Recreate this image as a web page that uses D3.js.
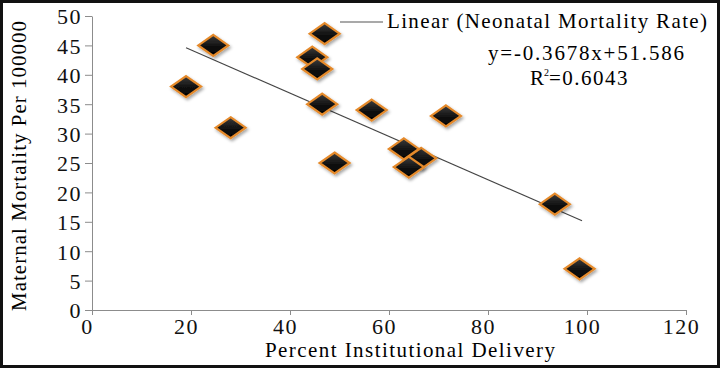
<!DOCTYPE html>
<html>
<head>
<meta charset="utf-8">
<script src="https://cdn.jsdelivr.net/npm/d3@7"></script>
<style>
  html, body { margin: 0; padding: 0; background: #fff; }
  svg { display: block; font-family: "Liberation Serif", "Times New Roman", "DejaVu Serif", serif; }
  .axis path, .axis line { stroke: #8c8c8c; }
</style>
</head>
<body>
<svg id="chart" width="720" height="368"></svg>
<script>
// Data
const delivery = [19, 24.5, 28, 44.5, 45.5, 47, 46.5, 49, 56.5, 66.5, 63, 64, 71.5, 93.5, 98.5];
const mortality = [38, 45, 31, 43, 41, 47, 35, 25, 34, 25.8, 27.4, 24.3, 33, 18, 7];
const xTicks = [0, 20, 40, 60, 80, 100, 120];
const yTicks = [0, 5, 10, 15, 20, 25, 30, 35, 40, 45, 50];
const slope = -0.3678;
const intercept = 51.586;
const trendRange = [19, 99];

const serif = '"Liberation Serif", "Times New Roman", "DejaVu Serif", serif';

const svg = d3.select('#chart');
const width = 720, height = 368;
const margin = { top: 16, right: 34, bottom: 58, left: 92 };

// Scales
const xScale = d3.scaleLinear()
  .domain([0, 120])
  .range([margin.left, width - margin.right]);

const yScale = d3.scaleLinear()
  .domain([0, 50])
  .range([height - margin.bottom, margin.top]);

// Outer frame
svg.append('rect')
  .attr('x', 1.5).attr('y', 1.5)
  .attr('width', width - 3).attr('height', height - 3)
  .attr('fill', '#fff')
  .attr('stroke', '#111')
  .attr('stroke-width', 3);

// Marker fill + shadow
const defs = svg.append('defs');
const grad = defs.append('linearGradient')
  .attr('id', 'dia').attr('x1', 0).attr('y1', 0).attr('x2', 0).attr('y2', 1);
grad.append('stop').attr('offset', '0%').attr('stop-color', '#3c3c3c');
grad.append('stop').attr('offset', '55%').attr('stop-color', '#111');
grad.append('stop').attr('offset', '100%').attr('stop-color', '#000');
const shadow = defs.append('filter').attr('id', 'shadow')
  .attr('x', '-30%').attr('y', '-30%').attr('width', '160%').attr('height', '160%');
shadow.append('feDropShadow')
  .attr('dx', 1.5).attr('dy', 2).attr('stdDeviation', 1.5)
  .attr('flood-color', '#000').attr('flood-opacity', 0.35);

// Axes
const xAxis = svg.append('g')
  .attr('class', 'axis')
  .attr('transform', `translate(0, ${yScale(0)})`)
  .call(d3.axisBottom(xScale).tickValues(xTicks).tickSize(5).tickPadding(3).tickSizeOuter(0));

const yAxis = svg.append('g')
  .attr('class', 'axis')
  .attr('transform', `translate(${xScale(0)}, 0)`)
  .call(d3.axisLeft(yScale).tickValues(yTicks).tickSize(7).tickPadding(3).tickSizeOuter(0));

[xAxis, yAxis].forEach(g => {
  g.attr('font-family', serif).attr('font-size', 22);
  g.selectAll('text')
    .attr('font-family', serif)
    .attr('letter-spacing', 1.5)
    .attr('fill', '#111');
});
xAxis.selectAll('text').attr('dx', -5);
yAxis.selectAll('text').attr('dy', '0.36em');

// Trend line
svg.append('line')
  .attr('x1', xScale(trendRange[0]))
  .attr('y1', yScale(slope * trendRange[0] + intercept))
  .attr('x2', xScale(trendRange[1]))
  .attr('y2', yScale(slope * trendRange[1] + intercept))
  .attr('stroke', '#444')
  .attr('stroke-width', 1.1);

// Diamonds
const w = 15, h = 10.5;
svg.append('g')
  .selectAll('path')
  .data(delivery.map((d, i) => [d, mortality[i]]))
  .join('path')
  .attr('d', `M0,${-h}L${w},0L0,${h}L${-w},0Z`)
  .attr('transform', d => `translate(${xScale(d[0])}, ${yScale(d[1])})`)
  .attr('fill', 'url(#dia)')
  .attr('stroke', '#e58a2c')
  .attr('stroke-width', 2.2)
  .attr('filter', 'url(#shadow)');

// Legend
svg.append('line')
  .attr('x1', 340).attr('x2', 383)
  .attr('y1', 22).attr('y2', 22)
  .attr('stroke', '#555').attr('stroke-width', 1.2);

svg.append('text')
  .attr('x', 387).attr('y', 28)
  .attr('font-size', 21)
  .attr('textLength', 320).attr('lengthAdjust', 'spacing')
  .text('Linear (Neonatal Mortality Rate)');

svg.append('text')
  .attr('x', 586).attr('y', 60)
  .attr('text-anchor', 'middle')
  .attr('font-size', 21)
  .attr('textLength', 196).attr('lengthAdjust', 'spacing')
  .text('y=-0.3678x+51.586');

const r2 = svg.append('text')
  .attr('x', 530).attr('y', 85)
  .attr('font-size', 21);
r2.append('tspan').text('R');
r2.append('tspan').attr('font-size', 10).attr('dy', -9).text('2');
r2.append('tspan').attr('dy', 9).attr('letter-spacing', 1.5).text('=0.6043');

// Axis titles
svg.append('text')
  .attr('x', 410).attr('y', 357)
  .attr('text-anchor', 'middle')
  .attr('font-size', 21)
  .attr('textLength', 290).attr('lengthAdjust', 'spacing')
  .text('Percent Institutional Delivery');

svg.append('text')
  .attr('transform', 'translate(26, 166) rotate(-90)')
  .attr('text-anchor', 'middle')
  .attr('font-size', 21)
  .attr('textLength', 290).attr('lengthAdjust', 'spacing')
  .text('Maternal Mortality Per 100000');
</script>
</body>
</html>
